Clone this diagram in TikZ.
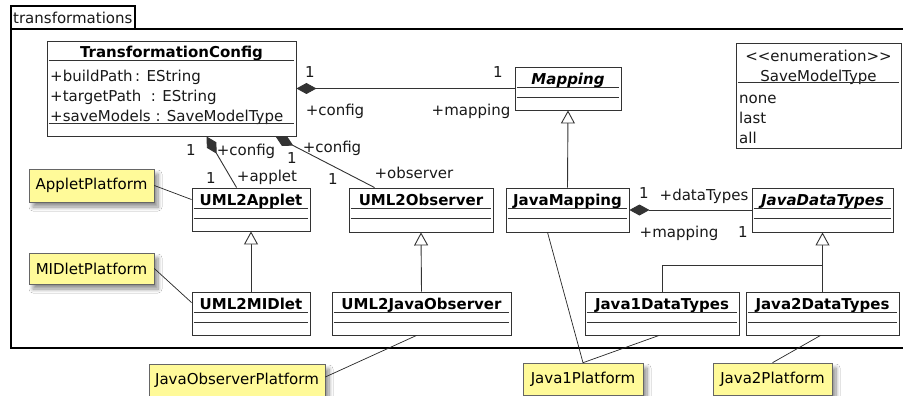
\documentclass[tikz,border=0pt]{standalone}
\usepackage{fontspec}
\setmainfont{DejaVu Sans}
\usetikzlibrary{arrows.meta,calc,shadows.blur}
\newcommand{\umlcls}[6]{%
  \node[cls, minimum width=#4pt, minimum height=#5pt] (#1) at (#2,#3) {};
  \node[ttl, anchor=base] at ($(#1.north)+(0,18)$) {#6};
  \draw[sep] ($(#1.north west)+(2,20.5)$) -- ($(#1.north east)+(-2,20.5)$);
  \draw[sep] ($(#1.north west)+(2,31)$) -- ($(#1.north east)+(-2,31)$);
}
\begin{document}
\begin{tikzpicture}[x=1pt,y=-1pt,
  font=\fontsize{15}{17}\selectfont,
  cls/.style={draw=black!80, line width=0.9pt, fill=white, inner sep=0pt},
  ttl/.style={font=\fontsize{15}{17}\selectfont\bfseries, inner sep=0pt},
  sep/.style={draw=black!80, line width=0.9pt},
  lbl/.style={inner sep=0pt, text=black!90},
  attr/.style={inner sep=0pt, anchor=base west, text=black!90},
  note/.style={draw=black!60, line width=0.6pt, fill=yellow!40, inner sep=0pt,
    blur shadow={shadow xshift=4pt, shadow yshift=-5pt, shadow blur steps=8, shadow blur radius=4pt, shadow opacity=45}},
  comp/.style={draw=black!80, line width=0.9pt, {Diamond[length=20pt,width=11pt]}-},
  gen/.style={draw=black!80, line width=0.9pt, -{Triangle[open,length=13pt,width=14pt,fill=white]}},
  plain/.style={draw=black!80, line width=0.9pt},
  link/.style={draw=black!85, line width=0.7pt},
  frame/.style={draw=black, line width=1.8pt}]
\useasboundingbox (0,0) rectangle (903,396);
\fill[white] (0,0) rectangle (903,396);

% package frame
\draw[frame] (906,29) -- (11,29) -- (11,348) -- (906,348);
\draw[frame] (11,29) -- (11,6) -- (135,6) -- (135,29);
\node[lbl, anchor=base west] (pkg) at (13,24) {transformations};

% TransformationConfig
\node[cls, minimum width=249pt, minimum height=95pt] (tc) at (171.5,88.5) {};
\node[ttl, anchor=base] at ($(tc.north)+(0,17)$) {TransformationConfig};
\draw[sep] ($(tc.north west)+(2,20)$) -- ($(tc.north east)+(-2,20)$);
\node[attr] at (50,81.5) {+buildPath\,: EString};
\node[attr] at (50,101.5) {+targetPath\ \ : EString};
\node[attr] at (50,121.5) {+saveModels : SaveModelType};
\draw[sep] ($(tc.north west)+(2,83)$) -- ($(tc.north east)+(-2,83)$);

% Mapping
\umlcls{map}{568}{88.5}{106}{43}{\itshape Mapping}

% SaveModelType
\node[cls, minimum width=165pt, minimum height=105pt] (smt) at (818.5,95.5) {};
\begin{scope}
\clip (smt.north west) rectangle (smt.south east);
\node[lbl, anchor=base] at ($(smt.north)+(0,18.5)$) {<{}<enumeration>{}>};
\end{scope}
\node[lbl, anchor=base] at ($(smt.north)+(0,38.5)$) {SaveModelType};
\draw[sep] ($(smt.north west)+(2,40)$) -- ($(smt.north east)+(-2,40)$);
\node[attr] at (739,103.5) {none};
\node[attr] at (739,123.5) {last};
\node[attr] at (739,143.5) {all};

% second row
\umlcls{ua}{251}{209.5}{118}{43}{UML2Applet}
\umlcls{uo}{421}{210}{144}{44}{UML2Observer}
\umlcls{jm}{567.5}{210}{123}{44}{JavaMapping}
\umlcls{jdt}{822.5}{210}{141}{44}{\itshape JavaDataTypes}

% third row
\umlcls{um}{251}{313.5}{118}{43}{UML2MIDlet}
\umlcls{ujo}{421.5}{313.5}{179}{43}{UML2JavaObserver}
\umlcls{jo}{662}{313.5}{154}{43}{Java1DataTypes}
\umlcls{jt}{822.5}{313.5}{153}{43}{Java2DataTypes}

% notes
\node[note, minimum width=125pt, minimum height=33pt] (ap) at (91.5,185.5) {AppletPlatform};
\node[note, minimum width=125pt, minimum height=31pt] (mp) at (91.5,268.5) {MIDletPlatform};
\node[note, minimum width=176pt, minimum height=32pt] (jop) at (237,380) {JavaObserverPlatform};
\node[note, minimum width=120pt, minimum height=32pt] (jop1) at (583,379) {Java1Platform};
\node[note, minimum width=119pt, minimum height=32pt] (jop2) at (772.5,379) {Java2Platform};

% compositions
\draw[comp] (tc.east) -- (map.west);
\draw[comp] ($(tc.south west)+(160,0)$) -- ($(ua.north west)+(45,0)$);
\draw[comp] ($(tc.south west)+(229,0)$) -- ($(uo.north west)+(26,0)$);
\draw[comp] (jm.east) -- (jdt.west);

% generalizations
\draw[gen] (um.north) -- (ua.south);
\draw[gen] (ujo.north) -- (uo.south);
\draw[gen] (jm.north) -- (map.south);
\draw[gen] (jt.north) -- (jdt.south);
\draw[plain] (jo.north) |- ($(jt.north)+(0,-26)$);

% note links
\draw[link] (ap.east) -- ($(ua.north west)+(0,12)$);
\draw[link] (mp.east) -- ($(um.north west)+(0,11)$);
\draw[link] ($(jop.east)+(0,-3)$) -- ($(ujo.south)+(-5,0)$);
\draw[link] (jop1.north) -- ($(jm.south west)+(42,0)$);
\draw[link] (jop1.north) -- ($(jo.south)+(-3,0)$);
\draw[link] (jop2.north) -- ($(jt.south)+(-2,0)$);

% labels
\node[lbl] (l1) at (310,72) {1};
\node[lbl] (l2) at (335,111) {+config};
\node[lbl] (l3) at (498,72) {1};
\node[lbl] (l4) at (471,111) {+mapping};
\node[lbl] (l5) at (191,150) {1};
\node[lbl] (l6) at (246,151) {+config};
\node[lbl] (l7) at (211,178) {1};
\node[lbl] (l8) at (267,177) {+applet};
\node[lbl] (l9) at (332,148) {+config};
\node[lbl] (l10) at (292,158) {1};
\node[lbl] (l11) at (333,179) {1};
\node[lbl] (l12) at (414,173) {+observer};
\node[lbl] (l13) at (644,193) {1};
\node[lbl] (l14) at (704,196) {+dataTypes};
\node[lbl] (l15) at (679,233) {+mapping};
\node[lbl] (l16) at (743,232) {1};
\end{tikzpicture}
\end{document}
